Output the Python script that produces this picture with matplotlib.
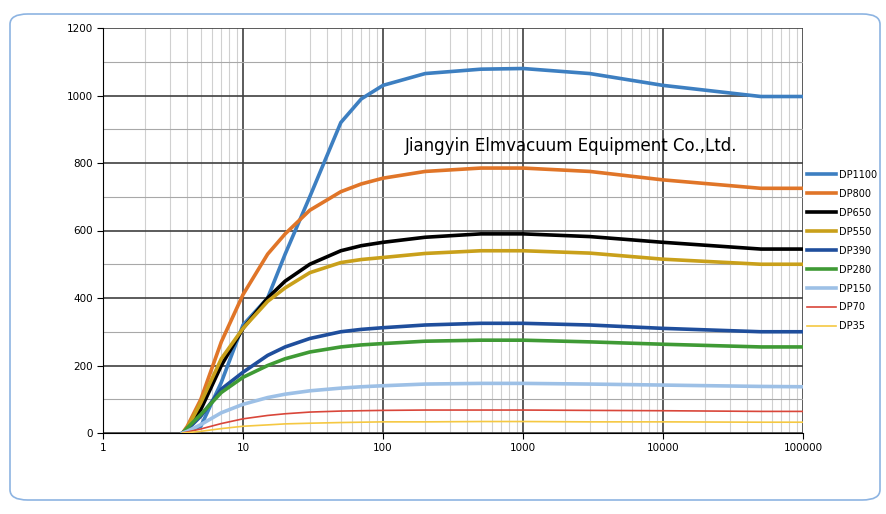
import matplotlib.pyplot as plt
from matplotlib.patches import FancyBboxPatch
from matplotlib.ticker import LogLocator, FixedLocator, NullFormatter

x = [3.7, 4, 5, 7, 10, 15, 20, 30, 50, 70, 100, 200, 500, 1000, 3000, 10000, 50000, 100000]

dp1100 = [0, 5, 20, 150, 320, 400, 530, 700, 920, 990, 1030, 1065, 1078, 1080, 1065, 1030, 997, 997]
dp800 = [0, 20, 100, 270, 410, 530, 590, 660, 715, 738, 755, 775, 785, 785, 775, 750, 725, 725]
dp650 = [0, 10, 70, 200, 310, 400, 450, 500, 540, 555, 565, 580, 590, 590, 582, 565, 545, 545]
dp550 = [0, 15, 90, 220, 310, 390, 430, 475, 505, 514, 520, 532, 540, 540, 533, 515, 500, 500]
dp390 = [0, 10, 50, 130, 180, 230, 255, 280, 300, 307, 312, 320, 325, 325, 320, 310, 300, 300]
dp280 = [0, 15, 55, 120, 165, 200, 220, 240, 255, 261, 265, 272, 275, 275, 270, 263, 255, 255]
dp150 = [0, 5, 25, 60, 85, 105, 115, 125, 133, 137, 140, 145, 147, 147, 145, 142, 138, 137]
dp70 = [0, 3, 12, 28, 42, 52, 57, 62, 65, 66, 67, 68, 68, 68, 67, 66, 64, 64]
dp35 = [0, 1, 5, 13, 20, 24, 27, 29, 31, 32, 33, 33, 34, 34, 33, 33, 32, 32]

series = [
    ("DP1100", dp1100, "#3D7FC1", 2.6),
    ("DP800", dp800, "#E07528", 2.6),
    ("DP650", dp650, "#000000", 2.6),
    ("DP550", dp550, "#C9A01A", 2.6),
    ("DP390", dp390, "#1F4E9C", 2.6),
    ("DP280", dp280, "#3F9A35", 2.6),
    ("DP150", dp150, "#9DC0E6", 2.6),
    ("DP70", dp70, "#D9463A", 1.2),
    ("DP35", dp35, "#F5C842", 1.2),
]

fig = plt.figure(figsize=(8.87, 5.14), dpi=100)
fig.patches.append(FancyBboxPatch((10 / 887, 14 / 514), 870 / 887, 486 / 514,
                                  boxstyle="round,pad=0,rounding_size=0.02",
                                  transform=fig.transFigure, fill=False,
                                  edgecolor="#8DB4E2", linewidth=1.2))
ax = fig.add_axes([103 / 887, 81 / 514, 700 / 887, 405 / 514])

for name, vals, color, lw in series:
    ax.plot(x, vals, color=color, linewidth=lw, label=name, zorder=3,
            solid_joinstyle="round")

ax.set_xscale("log")
ax.set_xlim(1, 100000)
ax.set_ylim(0, 1200)
ax.xaxis.set_minor_locator(LogLocator(base=10, subs=range(2, 10), numticks=20))
ax.xaxis.set_minor_formatter(NullFormatter())
ax.set_xticks([1, 10, 100, 1000, 10000, 100000])
ax.set_xticklabels(["1", "10", "100", "1000", "10000", "100000"])
ax.set_yticks(range(0, 1201, 200))
ax.yaxis.set_minor_locator(FixedLocator(range(100, 1200, 200)))

ax.grid(True, which="major", color="#404040", linewidth=1.2, zorder=1)
ax.grid(True, which="minor", axis="x", color="#D0D0D0", linewidth=0.8, zorder=1)
ax.grid(True, which="minor", axis="y", color="#A8A8A8", linewidth=0.8, zorder=1)
ax.tick_params(labelsize=7.5, length=4)
ax.tick_params(which="minor", length=0)
for s in ["top", "right"]:
    ax.spines[s].set_visible(False)

ax.text(144, 850, "Jiangyin Elmvacuum Equipment Co.,Ltd.", fontsize=12, va="center")

fig.legend(loc="upper left", bbox_to_anchor=(803 / 887, 1 - 166 / 514), frameon=False,
           fontsize=7, handlelength=3, labelspacing=0.92, handletextpad=0.3,
           borderaxespad=0)

fig.savefig("out.png", dpi=100)
